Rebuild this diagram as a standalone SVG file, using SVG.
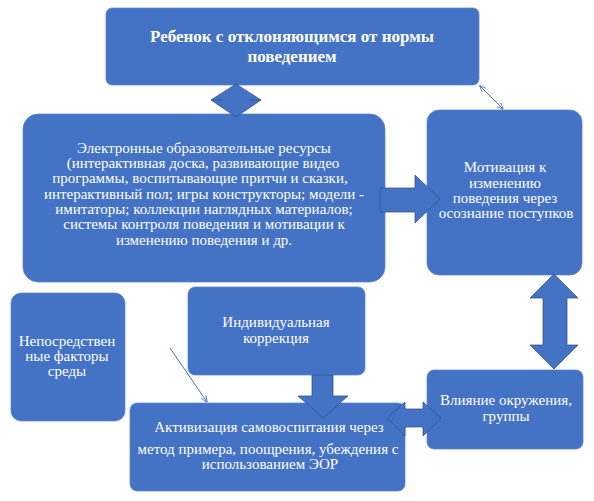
<svg xmlns="http://www.w3.org/2000/svg" width="594" height="501" viewBox="0 0 594 501">
<style>
.box{fill:#4472C4;stroke:#5B85D0;stroke-width:0.75}
.arr{fill:#4472C4;stroke:#2F528F;stroke-width:0.75}
.t{font-family:"Liberation Serif",Tinos,"Times New Roman","DejaVu Serif",serif;fill:#FFFFFF;font-size:15px;text-anchor:middle}
.tb{font-family:"Liberation Serif",Tinos,"Times New Roman","DejaVu Serif",serif;fill:#FFFFFF;font-size:17px;font-weight:bold;text-anchor:middle}
.thin{stroke:#4472C4;stroke-width:1;fill:none}
</style>
<defs>
<marker id="ah" viewBox="0 0 10 10" refX="9" refY="5" markerWidth="7" markerHeight="7" orient="auto-start-reverse" markerUnits="userSpaceOnUse">
<path d="M0,1 L10,5 L0,9" fill="none" stroke="#4472C4" stroke-width="1.2"/>
</marker>
</defs>
<rect width="594" height="501" fill="#FFFFFF"/>
<g id="node-top">
<rect class="box" x="106" y="8" width="373" height="77" rx="6"/>
<text class="tb" x="292" y="42">Ребенок с отклоняющимся от нормы</text>
<text class="tb" x="292" y="62">поведением</text>
</g>
<g id="node-eor">
<rect class="box" x="23" y="114" width="362" height="168" rx="15"/>
<text class="t" x="204" y="153">Электронные образовательные ресурсы</text>
<text class="t" x="203" y="168">(интерактивная доска, развивающие видео</text>
<text class="t" x="200" y="183">программы, воспитывающие притчи и сказки,</text>
<text class="t" x="204" y="199">интерактивный пол; игры конструкторы; модели -</text>
<text class="t" x="204" y="214">имитаторы; коллекции наглядных материалов;</text>
<text class="t" x="204" y="229">системы контроля поведения и мотивации к</text>
<text class="t" x="204" y="245">изменению поведения и др.</text>
</g>
<g id="node-motivation">
<rect class="box" x="427" y="110" width="155" height="165" rx="12"/>
<text class="t" x="505" y="172">Мотивация к</text>
<text class="t" x="505" y="188">изменению</text>
<text class="t" x="505" y="203">поведения через</text>
<text class="t" x="506" y="218">осознание поступков</text>
</g>
<g id="node-factors">
<rect class="box" x="11" y="293" width="114" height="128" rx="10"/>
<text class="t" x="67" y="346">Непосредствен</text>
<text class="t" x="67" y="361">ные факторы</text>
<text class="t" x="67" y="376">среды</text>
</g>
<g id="node-correction">
<rect class="box" x="188" y="287" width="177" height="88" rx="7"/>
<text class="t" x="276" y="327">Индивидуальная</text>
<text class="t" x="276" y="343">коррекция</text>
</g>
<g id="node-activation">
<rect class="box" x="130" y="403" width="275" height="88" rx="7"/>
<text class="t" x="269" y="432">Активизация самовоспитания через</text>
<text class="t" x="268" y="454">метод примера, поощрения, убеждения с</text>
<text class="t" x="270" y="469">использованием ЭОР</text>
</g>
<g id="node-influence">
<rect class="box" x="427" y="370" width="156" height="79" rx="7"/>
<text class="t" x="506" y="405">Влияние окружения,</text>
<text class="t" x="506" y="421">группы</text>
</g>
<g id="connectors">
<polygon class="arr" points="236,84 261,100 236,117 211,100"/>
<line x1="211" y1="100" x2="223" y2="100" stroke="#2F528F" stroke-width="0.75"/>
<line x1="249" y1="100" x2="261" y2="100" stroke="#2F528F" stroke-width="0.75"/>
<line class="thin" x1="480" y1="86" x2="503" y2="109" marker-start="url(#ah)" marker-end="url(#ah)"/>
<polygon class="arr" points="380,188 415,188 415,175 440,199 415,223 415,212 380,212"/>
<polygon class="arr" points="554,274 578,298 567,298 567,345 578,345 554,369 530,345 543,345 543,298 530,298"/>
<polygon class="arr" points="312,375 333,375 333,396 348,396 323,418 298,396 312,396"/>
<polygon class="arr" points="387,418 405,402 405,409 423,409 423,402 441,418 423,436 423,427 405,427 405,436"/>
<line class="thin" x1="170" y1="348" x2="207" y2="402" marker-end="url(#ah)"/>
</g>
</svg>
